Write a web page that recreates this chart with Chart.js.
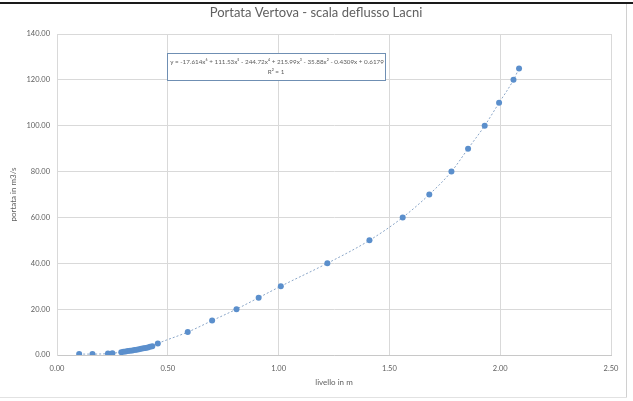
<!DOCTYPE html>
<html>
<head>
<meta charset="utf-8">
<script src="https://cdn.jsdelivr.net/npm/chart.js@4/dist/chart.umd.min.js"></script>
<style>
  html, body { margin: 0; padding: 0; background: #fff; }
  #wrap { position: relative; width: 633px; height: 401px; overflow: hidden; }
  #c { position: absolute; left: 0; top: 0; }
  .edge-top { position: absolute; left: 0; top: 2px; width: 633px; height: 2px; background: #1a1a1a; }
  .edge-right { position: absolute; left: 626px; top: 4px; width: 1px; height: 394px; background: #d0d0d0; }
  .edge-bottom { position: absolute; left: 0; top: 397px; width: 627px; height: 1px; background: #e2e2e2; }
</style>
</head>
<body>
<div id="wrap">
  <canvas id="c" width="633" height="401"></canvas>
  <div class="edge-top"></div>
  <div class="edge-right"></div>
  <div class="edge-bottom"></div>
</div>
<script>
// Stage-discharge measurements (level in m, discharge in m3/s)
const livello = [0.10, 0.16, 0.23, 0.25, 0.29, 0.30, 0.31, 0.32, 0.33, 0.34, 0.35, 0.36, 0.37, 0.38, 0.39, 0.40, 0.41, 0.42, 0.43, 0.455,
                 0.59, 0.70, 0.81, 0.91, 1.01, 1.22, 1.41, 1.56, 1.68, 1.78, 1.855, 1.93, 1.995, 2.06, 2.085];
const portata = [0.4, 0.4, 0.6, 0.8, 1.2, 1.4, 1.5, 1.7, 1.8, 2.0, 2.2, 2.3, 2.5, 2.7, 2.9, 3.1, 3.3, 3.6, 3.8, 5.0,
                 10, 15, 20, 25, 30, 40, 50, 60, 70, 80, 90, 100, 110, 120, 125];
const xTicks = [0, 0.5, 1.0, 1.5, 2.0, 2.5];
const yTicks = [0, 20, 40, 60, 80, 100, 120, 140];

const chartTitle = 'Portata Vertova - scala deflusso Lacni';
const equation = 'y = -17.614x\u2076 + 111.53x\u2075 - 244.72x\u2074 + 215.99x\u00B3 - 35.88x\u00B2 - 0.4309x + 0.6179';
const rSquared = 'R\u00B2 = 1';

const FONT = 'Lato, "Liberation Sans", sans-serif';
const GREY = '#606060';

const points = livello.map((x, i) => ({ x: x, y: portata[i] }));

// Title and trendline equation box drawn on the canvas
const overlay = {
  id: 'overlay',
  afterDraw(chart) {
    const ctx = chart.ctx;
    ctx.save();
    ctx.fillStyle = GREY;
    ctx.font = '13px ' + FONT;
    ctx.textAlign = 'center';
    ctx.textBaseline = 'middle';
    ctx.fillText(chartTitle, 316, 13);

    const bx = 167, by = 53, bw = 218, bh = 27;
    ctx.fillStyle = '#ffffff';
    ctx.fillRect(bx, by, bw, bh);
    ctx.strokeStyle = '#6f8fb3';
    ctx.lineWidth = 1;
    ctx.strokeRect(bx + 0.5, by + 0.5, bw, bh);
    ctx.fillStyle = GREY;
    ctx.font = '6.3px ' + FONT;
    ctx.fillText(equation, bx + bw / 2 + 1, by + 9);
    ctx.fillText(rSquared, bx + bw / 2, by + 19);
    ctx.restore();
  }
};

new Chart(document.getElementById('c'), {
  type: 'scatter',
  data: {
    datasets: [{
      data: points,
      showLine: true,
      borderColor: '#8aa6c8',
      borderWidth: 1,
      borderDash: [2, 2],
      cubicInterpolationMode: 'monotone',
      backgroundColor: '#5b8fcc',
      pointBackgroundColor: '#5b8fcc',
      pointBorderColor: '#5b8fcc',
      pointRadius: 3,
      pointBorderWidth: 0
    }]
  },
  options: {
    responsive: false,
    animation: false,
    devicePixelRatio: 1,
    layout: { padding: { top: 34, left: 0, right: 22, bottom: 0 } },
    plugins: {
      legend: { display: false },
      tooltip: { enabled: false },
      title: { display: false }
    },
    scales: {
      x: {
        type: 'linear',
        min: 0,
        max: 2.5,
        afterBuildTicks(scale) { scale.ticks = xTicks.map(v => ({ value: v })); },
        afterFit(scale) { scale.height = 46; },
        grid: { color: '#d9d9d9', drawTicks: false },
        border: { display: true, color: '#c8c8c8' },
        ticks: {
          padding: 9,
          color: GREY,
          font: { family: FONT, size: 7.5 },
          callback: v => Number(v).toFixed(2)
        },
        title: {
          display: true,
          text: 'livello in m',
          color: GREY,
          font: { family: FONT, size: 8 },
          padding: { top: 0, bottom: 14 }
        }
      },
      y: {
        type: 'linear',
        min: 0,
        max: 140,
        afterBuildTicks(scale) { scale.ticks = yTicks.map(v => ({ value: v })); },
        afterFit(scale) { scale.width = 57; },
        grid: { color: '#d9d9d9', drawTicks: false },
        border: { display: true, color: '#d9d9d9' },
        ticks: {
          padding: 7,
          color: GREY,
          font: { family: FONT, size: 7.5 },
          callback: v => Number(v).toFixed(2)
        },
        title: {
          display: true,
          text: 'portata in m3/s',
          color: GREY,
          font: { family: FONT, size: 8 },
          padding: { top: 9, bottom: 0 }
        }
      }
    }
  },
  plugins: [overlay]
});
</script>
</body>
</html>
